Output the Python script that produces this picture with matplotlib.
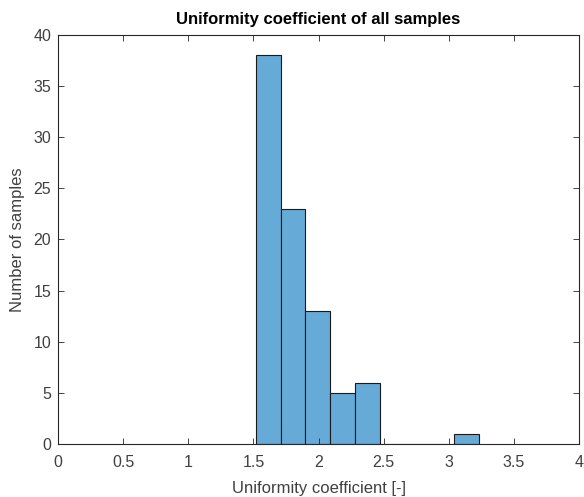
import matplotlib.pyplot as plt
import numpy as np

plt.rcParams['font.family'] = ['Liberation Sans', 'DejaVu Sans']

# ── DATA ─────────────────────────────────────────────────────
bin_edges = [1.52, 1.71, 1.90, 2.09, 2.28, 2.47, 2.66, 2.85, 3.04, 3.23]
counts    = [38, 23, 13, 5, 6, 0, 0, 0, 1]

x_ticks = [0, 0.5, 1, 1.5, 2, 2.5, 3, 3.5, 4]
y_ticks = [0, 5, 10, 15, 20, 25, 30, 35, 40]

# ── STYLE ────────────────────────────────────────────────────
FACE = '#66AAD7'
EDGE = '#1A1A1A'
AX_C = '#262626'
TXT_C = '#404040'

fig = plt.figure(figsize=(5.84, 4.97), dpi=100)
ax = fig.add_axes([58/584, 1 - 444/497, (579 - 58)/584, (444 - 35)/497])

edges = np.array(bin_edges)
ax.bar(edges[:-1], counts, width=np.diff(edges), align='edge',
       color=FACE, edgecolor=EDGE, linewidth=0.8)

ax.set_xlim(0, 4)
ax.set_ylim(0, 40)
ax.set_xticks(x_ticks)
ax.set_xticklabels([f'{t:g}' for t in x_ticks])
ax.set_yticks(y_ticks)

for s in ax.spines.values():
    s.set_color(AX_C)
    s.set_linewidth(0.8)
ax.tick_params(direction='in', top=True, right=True, length=4,
               width=0.6, colors=AX_C, labelsize=11.5, labelcolor=TXT_C)
ax.tick_params(axis='x', pad=8)
ax.tick_params(axis='y', pad=5)

ax.set_xlabel('Uniformity coefficient [-]', fontsize=12, color=TXT_C, labelpad=8)
ax.set_ylabel('Number of samples', fontsize=12, color=TXT_C, labelpad=6)
ax.set_title('Uniformity coefficient of all samples', fontsize=12,
             fontweight='bold', color='black', pad=8)

fig.savefig('out.png', dpi=100)
